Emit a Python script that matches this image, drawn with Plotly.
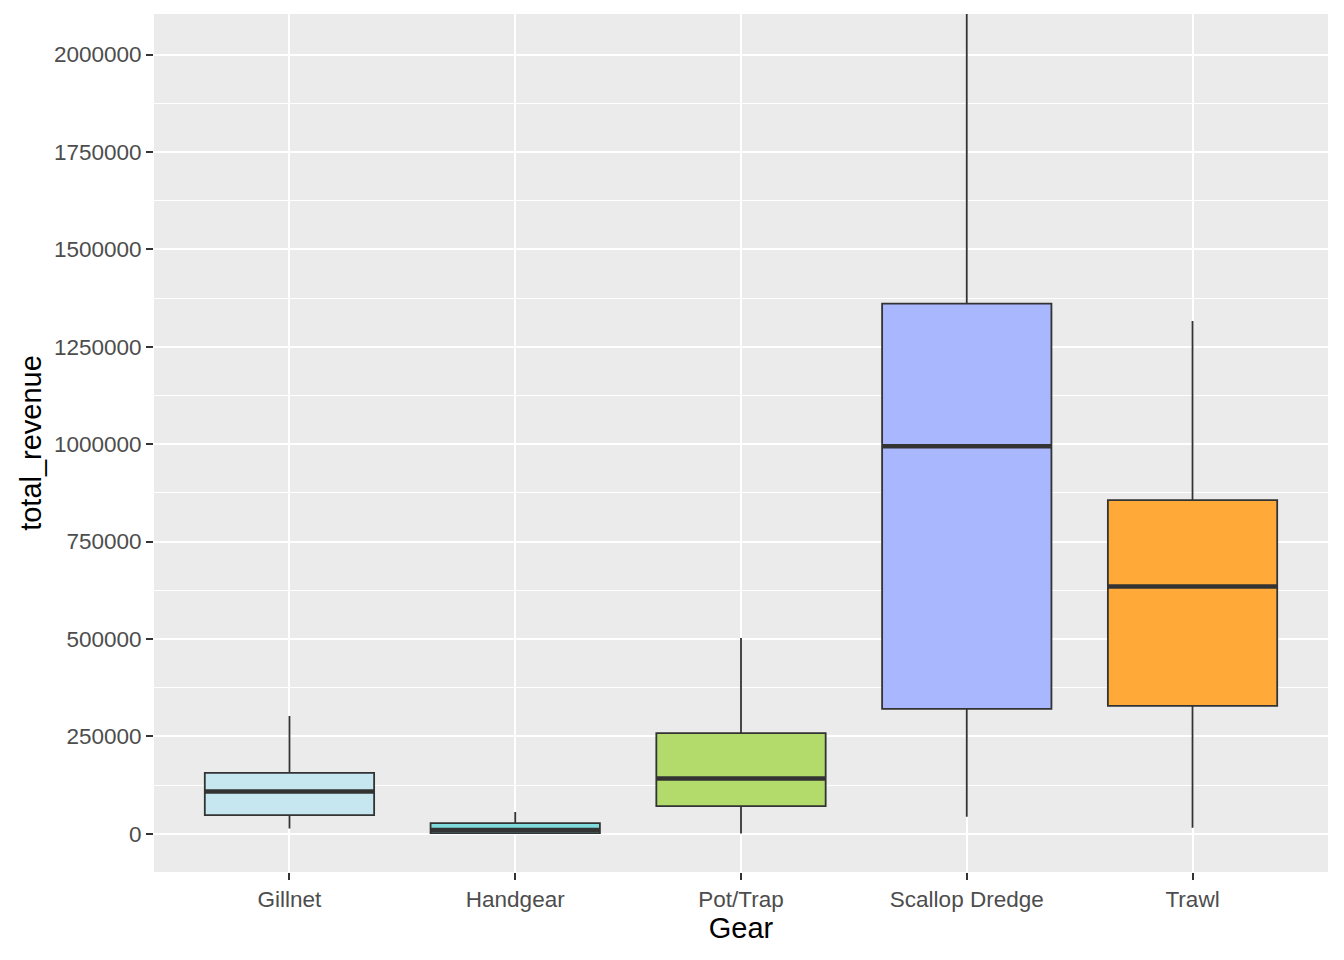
import plotly.graph_objects as go

# box statistics
gear = ['Gillnet', 'Handgear', 'Pot/Trap', 'Scallop Dredge', 'Trawl']
lower = [13900, 0, 500, 43600, 15400]
q1 = [48000, 1800, 71100, 320900, 328600]
median = [108800, 9500, 142200, 994500, 635000]
q3 = [156600, 27500, 258500, 1360500, 856600]
upper = [302100, 55700, 502400, 2400000, 1316100]
fills = ['#C6E6F0', '#80DCDC', '#B2DB6B', '#A8B7FE', '#FFAA38']

fig = go.Figure()

# one box per gear so each gets its own fill
for i, g in enumerate(gear):
    fig.add_trace(go.Box(
        x=[g], q1=[q1[i]], median=[median[i]], q3=[q3[i]],
        lowerfence=[lower[i]], upperfence=[upper[i]],
        fillcolor=fills[i], line=dict(color='#333333', width=1.8),
        whiskerwidth=0, width=0.75, boxpoints=False,
        showlegend=False, hoverinfo='skip'))

# ggplot draws a thicker median bar
for i, m in enumerate(median):
    fig.add_shape(type='line', xref='x', yref='y',
                  x0=i - 0.375, x1=i + 0.375, y0=m, y1=m,
                  line=dict(color='#333333', width=4.5))

# page has an 8px body margin, so the figure is sized to fit inside the window
fig.update_layout(
    width=1336, height=952,
    margin=dict(l=146, r=16, t=6, b=88),
    paper_bgcolor='white', plot_bgcolor='#EBEBEB',
    font=dict(family='Liberation Sans, Arial, sans-serif'),
    boxgap=0,
)

fig.update_xaxes(
    title=dict(text='Gear', font=dict(size=29, color='black'), standoff=6),
    categoryorder='array', categoryarray=gear,
    range=[-0.6, 4.6],
    tickfont=dict(size=22.5, color='#4D4D4D'),
    ticks='outside', ticklen=7, tickwidth=2, tickcolor='#333333',
    showgrid=True, gridcolor='white', gridwidth=2,
    zeroline=False, showline=False,
)

fig.update_yaxes(
    title=dict(text='total_revenue', font=dict(size=29, color='black'), standoff=3),
    range=[-98000, 2104000],
    tickvals=[0, 250000, 500000, 750000, 1000000, 1250000, 1500000, 1750000, 2000000],
    ticktext=['0', '250000', '500000', '750000', '1000000', '1250000', '1500000', '1750000', '2000000'],
    tickfont=dict(size=22.5, color='#4D4D4D'),
    ticks='outside', ticklen=7, tickwidth=2, tickcolor='#333333',
    showgrid=True, gridcolor='white', gridwidth=2,
    minor=dict(tickvals=[125000, 375000, 625000, 875000, 1125000, 1375000, 1625000, 1875000],
               showgrid=True, gridcolor='white', gridwidth=1, ticks=''),
    zeroline=False, showline=False,
)

fig.write_html("out.html")
